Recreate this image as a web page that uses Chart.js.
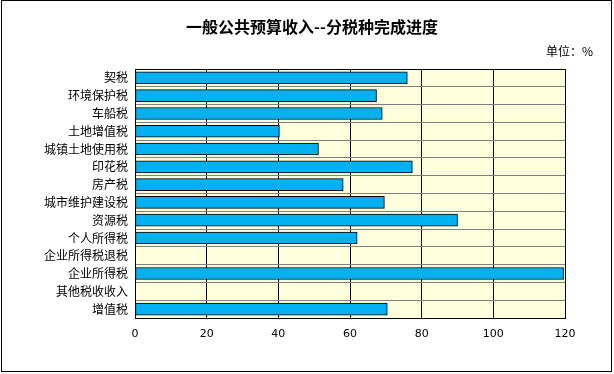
<!DOCTYPE html>
<html>
<head>
<meta charset="utf-8">
<script src="https://cdn.jsdelivr.net/npm/chart.js@4/dist/chart.umd.min.js"></script>
<style>
  html, body { margin: 0; padding: 0; background: #fff; }
  #wrap { width: 614px; height: 374px; }
</style>
</head>
<body>
<div id="wrap"><canvas id="grafico"></canvas></div>
<script>
// categorias (de cima para baixo)
const categorias = ['契税', '环境保护税', '车船税', '土地增值税', '城镇土地使用税', '印花税', '房产税',
  '城市维护建设税', '资源税', '个人所得税', '企业所得税退税', '企业所得税', '其他税收收入', '增值税'];
// progresso (%)
const progresso = [76.0, 67.4, 69.0, 40.3, 51.2, 77.4, 58.1, 69.6, 90.0, 62.0, null, 119.6, null, 70.4];
const ticksX = [0, 20, 40, 60, 80, 100, 120];

const titulo = '一般公共预算收入--分税种完成进度';
const unidade = '单位：%';
const fonteCJK = '"Noto Sans CJK SC", "Noto Sans", sans-serif';

// fundo, moldura e textos
const molduraPlugin = {
  id: 'moldura',
  beforeDraw(chart) {
    const { ctx, chartArea: a } = chart;
    ctx.save();
    ctx.fillStyle = '#ffffff';
    ctx.fillRect(0, 0, chart.width, chart.height);
    ctx.fillStyle = '#ffffdd';
    ctx.fillRect(a.left, a.top, a.right - a.left, a.bottom - a.top);
    ctx.restore();
  },
  afterDraw(chart) {
    const { ctx, chartArea: a } = chart;
    ctx.save();
    ctx.strokeStyle = '#000';
    ctx.lineWidth = 1;
    ctx.strokeRect(Math.round(a.left) + 0.5, Math.round(a.top) + 0.5,
      Math.round(a.right - a.left), Math.round(a.bottom - a.top));
    ctx.strokeRect(1.5, 0.5, 610, 371);

    ctx.fillStyle = '#000';
    ctx.textBaseline = 'middle';
    ctx.textAlign = 'center';
    ctx.font = 'bold 16px ' + fonteCJK;
    ctx.fillText(titulo, 312, 27);
    ctx.textAlign = 'right';
    ctx.font = '12px ' + fonteCJK;
    ctx.fillText(unidade, 593, 51);
    ctx.restore();
  }
};

const ctxGrafico = document.getElementById('grafico').getContext('2d');
new Chart(ctxGrafico, {
  type: 'bar',
  data: {
    labels: categorias,
    datasets: [{
      label: '完成进度',
      data: progresso,
      backgroundColor: '#00b0f0',
      borderColor: '#000000',
      borderWidth: 1,
      borderSkipped: false,
      barThickness: 12
    }]
  },
  options: {
    indexAxis: 'y',
    responsive: true,
    maintainAspectRatio: false,
    animation: false,
    layout: { padding: { left: 0, right: 49, top: 69, bottom: 26 } },
    plugins: {
      legend: { display: false },
      tooltip: { enabled: false }
    },
    scales: {
      x: {
        min: 0,
        max: 120,
        afterBuildTicks: axis => { axis.ticks = ticksX.map(v => ({ value: v })); },
        afterFit: axis => { axis.height = 30; },
        grid: { color: '#000000', drawTicks: false },
        border: { color: '#000000' },
        ticks: { color: '#000', padding: 10, font: { size: 11, family: 'DejaVu Sans' } }
      },
      y: {
        afterFit: axis => { axis.width = 135; },
        grid: { color: '#808080', offset: true, drawTicks: false },
        border: { color: '#000000' },
        ticks: { color: '#000', padding: 7, font: { size: 12, family: fonteCJK } }
      }
    }
  },
  plugins: [molduraPlugin]
});
</script>
</body>
</html>
